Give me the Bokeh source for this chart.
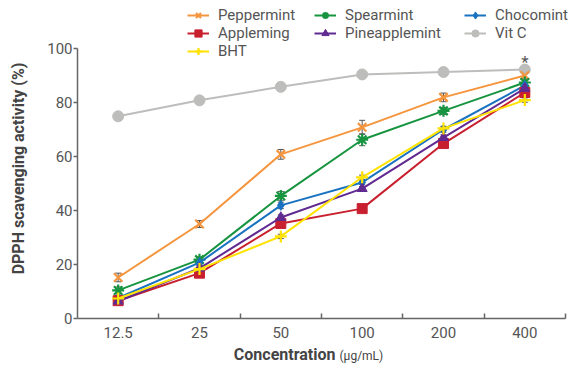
import math
from bokeh.plotting import figure
from bokeh.models import (Range1d, FixedTicker, Legend, LegendItem, Whisker, TeeHead,
                          ColumnDataSource, Label)
from bokeh.embed import file_html
from bokeh.resources import INLINE

categories = ["12.5", "25", "50", "100", "200", "400"]
peppermint = [15.2, 35.0, 60.8, 70.8, 81.9, 90.0]
appleming = [6.6, 16.8, 35.2, 40.7, 64.8, 83.7]
bht = [7.4, 18.3, 30.4, 52.3, 70.4, 80.9]
spearmint = [10.4, 21.8, 45.4, 66.2, 76.9, 87.4]
pineapplemint = [6.4, 18.6, 37.4, 48.1, 67.0, 85.2]
chocomint = [7.6, 20.7, 41.9, 50.4, 70.0, 86.3]
vitc = [74.9, 80.8, 85.8, 90.4, 91.3, 92.2]

err_peppermint = [1.6, 1.3, 1.8, 2.6, 1.6, 1.0]
err_appleming = [1.0, 1.0, 1.5, 0.8, 1.0, 1.0]
err_bht = [0.8, 0.8, 0.8, 0.8, 0.8, 0.8]
err_spearmint = [1.3, 1.0, 1.6, 2.2, 1.3, 1.0]
err_pineapplemint = [1.0, 1.0, 1.0, 0.8, 1.0, 1.2]
err_chocomint = [0.8, 0.8, 1.2, 0.8, 1.0, 1.0]
err_vitc = [0.5, 0.5, 0.5, 0.5, 0.5, 0.6]

series = [
    ("Vit C", vitc, err_vitc, "#bdbdbb", "circle"),
    ("Peppermint", peppermint, err_peppermint, "#f5963f", "x"),
    ("Spearmint", spearmint, err_spearmint, "#17943f", "asterisk"),
    ("Chocomint", chocomint, err_chocomint, "#1a73c0", "diamond"),
    ("Appleming", appleming, err_appleming, "#c8202f", "square"),
    ("Pineapplemint", pineapplemint, err_pineapplemint, "#612a91", "triangle"),
    ("BHT", bht, err_bht, "#ffe200", "cross"),
]

FONT = "Roboto"
GRAY = "#555555"
TITLE = "#444444"

# frame spans the whole figure; axes are fixed at the data origin and bounded
p = figure(width=568, height=371, output_backend="svg", toolbar_location=None,
           x_range=Range1d(-0.9467, 6.037), y_range=Range1d(-19.63, 117.78),
           min_border_left=0, min_border_right=0, min_border_top=0, min_border_bottom=0)
p.outline_line_color = None
p.grid.grid_line_color = None
p.background_fill_color = None
p.border_fill_color = "white"

xs = [i + 0.5 for i in range(len(categories))]
p.xaxis.fixed_location = 0
p.xaxis.bounds = (0, 6)
p.xaxis.ticker = FixedTicker(ticks=xs, minor_ticks=[1, 2, 3, 4, 5, 6])
p.xaxis.major_label_overrides = {x: c for x, c in zip(xs, categories)}
p.xaxis.minor_tick_in = 5
p.xaxis.minor_tick_out = 0
p.xaxis.minor_tick_line_color = "#666666"
p.xaxis.minor_tick_line_width = 1.5
p.yaxis.fixed_location = 0
p.yaxis.bounds = (0, 100)
p.yaxis.ticker = FixedTicker(ticks=[0, 20, 40, 60, 80, 100], minor_ticks=[])
p.yaxis.major_tick_in = 0
p.yaxis.major_tick_out = 4
p.yaxis.minor_tick_line_color = None
for ax in (p.xaxis, p.yaxis):
    ax.axis_line_color = "#666666"
    ax.axis_line_width = 1.5
    ax.major_tick_line_width = 1.5
    ax.major_label_text_font = FONT
    ax.major_label_text_font_size = "15px"
    ax.major_label_text_color = GRAY
p.yaxis.major_tick_line_color = "#666666"
p.xaxis.major_tick_line_color = None
p.xaxis.major_label_standoff = 2
p.yaxis.major_label_standoff = 1

renderers = {}
for name, vals, errs, color, marker in series:
    src = ColumnDataSource(dict(x=xs, y=vals, lo=[v - e for v, e in zip(vals, errs)],
                                hi=[v + e for v, e in zip(vals, errs)]))
    w = Whisker(source=src, base="x", lower="lo", upper="hi", line_color="#555555",
                line_width=1,
                upper_head=TeeHead(size=6, line_color="#555555", line_width=1),
                lower_head=TeeHead(size=6, line_color="#555555", line_width=1))
    p.add_layout(w)
    l = p.line("x", "y", source=src, line_color=color, line_width=2)
    if marker in ("x", "asterisk", "cross"):
        m = p.scatter("x", "y", source=src, marker=marker, size=12, line_color=color,
                      line_width=2.2, fill_color=None)
    else:
        m = p.scatter("x", "y", source=src, marker=marker,
                      size=11 if marker == "circle" else 10,
                      line_color=color, fill_color=color)
    renderers[name] = [l, m]

def make_legend(names, vx, vy):
    leg = Legend(items=[LegendItem(label=n, renderers=renderers[n]) for n in names],
                 location=(vx, vy), orientation="vertical",
                 padding=0, spacing=0, margin=0, label_height=18, glyph_height=18,
                 glyph_width=22, label_standoff=9,
                 label_text_font=FONT, label_text_font_size="15px",
                 label_text_color=GRAY, border_line_color=None,
                 background_fill_alpha=0)
    p.add_layout(leg, "center")

# legend positions in screen px from the figure's bottom-left corner
make_legend(["Peppermint", "Appleming", "BHT"], 187, 371 - 6 - 54)
make_legend(["Spearmint", "Pineapplemint"], 314, 371 - 6 - 36)
make_legend(["Chocomint", "Vit C"], 464, 371 - 6 - 36)

p.add_layout(Label(x=5.5, y=95.0, text="*", text_align="center", text_baseline="middle",
                   text_font=FONT, text_font_size="17px", text_color=GRAY))
p.add_layout(Label(x=335, y=371 - 354, x_units="screen", y_units="screen",
                   text="Concentration", text_align="right",
                   text_baseline="middle", text_font=FONT, text_font_style="bold",
                   text_font_size="16px", text_color=TITLE))
p.add_layout(Label(x=339, y=371 - 355, x_units="screen", y_units="screen",
                   text="(μg/mL)", text_align="left",
                   text_baseline="middle", text_font=FONT,
                   text_font_size="12px", text_color=TITLE))
p.add_layout(Label(x=18, y=371 - 168, x_units="screen", y_units="screen",
                   text="DPPH scavenging activity (%)", angle=math.pi / 2,
                   text_align="center", text_baseline="middle", text_font=FONT,
                   text_font_style="bold", text_font_size="16px", text_color=TITLE))

open("out.html", "w").write(file_html(p, INLINE))
